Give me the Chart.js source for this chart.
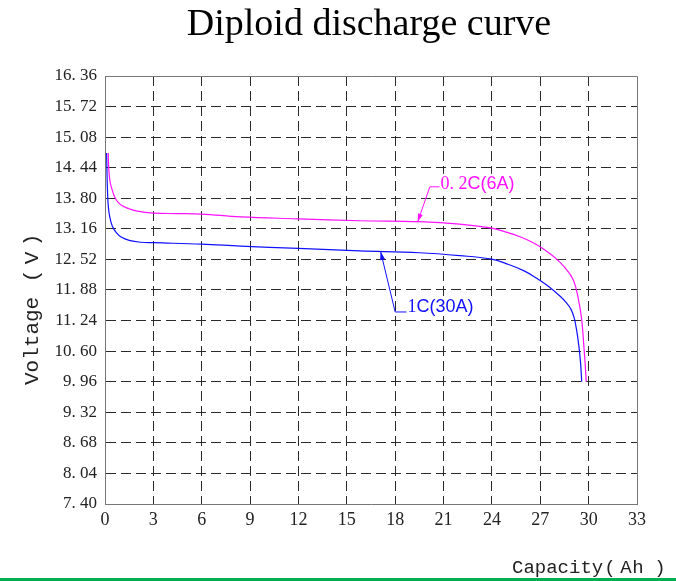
<!DOCTYPE html>
<html>
<head>
<meta charset="utf-8">
<title>Diploid discharge curve</title>
<script src="https://cdn.jsdelivr.net/npm/chart.js@4.4.1/dist/chart.umd.min.js"></script>
<style>
    html, body { margin: 0; padding: 0; background: #fff; }
    #wrap { width: 676px; height: 581px; position: relative; }
</style>
</head>
<body>
<div id="wrap"><canvas id="dischargeChart"></canvas></div>
<script>
const xTicks = [0, 3, 6, 9, 12, 15, 18, 21, 24, 27, 30, 33];
const yTicks = [7.40, 8.04, 8.68, 9.32, 9.96, 10.60, 11.24, 11.88, 12.52, 13.16, 13.80, 14.44, 15.08, 15.72, 16.36];

// 0.2C (6A)
const capacity02C = [0.2, 0.22, 0.26, 0.33, 0.45, 0.6, 0.8, 1.1, 1.5, 2, 3, 4.5, 6, 8.4, 12, 15.8, 19.5, 22, 23.9, 24.8, 25.7, 26.5, 27.2, 27.9, 28.5, 29.05, 29.37, 29.57, 29.7, 29.8, 29.85];
const voltage02C = [14.75, 14.5, 14.3, 14.12, 13.97, 13.83, 13.72, 13.64, 13.58, 13.53, 13.49, 13.48, 13.47, 13.41, 13.37, 13.33, 13.31, 13.26, 13.18, 13.1, 13.0, 12.88, 12.74, 12.56, 12.36, 12.09, 11.68, 11.26, 10.72, 10.25, 9.96];

// 1C (30A)
const capacity1C = [0.1, 0.12, 0.15, 0.2, 0.3, 0.45, 0.7, 1.0, 1.5, 2.2, 3, 6, 8.4, 12, 15.8, 19.5, 22, 23.9, 25, 26, 26.8, 27.5, 28.2, 28.6, 28.9, 29.1, 29.25, 29.4, 29.5, 29.57];
const voltage1C = [14.75, 14.4, 14.0, 13.65, 13.4, 13.22, 13.08, 12.99, 12.92, 12.88, 12.87, 12.84, 12.8, 12.75, 12.7, 12.66, 12.6, 12.53, 12.42, 12.28, 12.12, 11.96, 11.76, 11.62, 11.48, 11.3, 11.05, 10.69, 10.35, 9.96];

const pink = '#ff10ff';
const blue = '#1010ff';

function toPoints(xs, ys) {
    return xs.map((v, i) => ({ x: v, y: ys[i] }));
}

function edgeColor(ctx, count) {
    return (ctx.index === 0 || ctx.index === count - 1) ? 'rgba(0,0,0,0)' : '#2a2a2a';
}

function drawArrow(ctx, fx, fy, tx, ty, color) {
    const ang = Math.atan2(ty - fy, tx - fx);
    const len = 8, half = 2.5;
    ctx.fillStyle = color;
    ctx.beginPath();
    ctx.moveTo(tx, ty);
    ctx.lineTo(tx - len * Math.cos(ang) + half * Math.sin(ang), ty - len * Math.sin(ang) - half * Math.cos(ang));
    ctx.lineTo(tx - len * Math.cos(ang) - half * Math.sin(ang), ty - len * Math.sin(ang) + half * Math.cos(ang));
    ctx.closePath();
    ctx.fill();
}

function drawMixedLabel(ctx, x, y, serifPart, sansPart, color) {
    ctx.textAlign = 'left';
    ctx.textBaseline = 'alphabetic';
    ctx.font = '18px "Liberation Serif"';
    const w1 = ctx.measureText(serifPart).width;
    ctx.font = '18px "Liberation Sans"';
    const w2 = ctx.measureText(sansPart).width;
    // white knock-out so the grid does not run through the text
    ctx.fillStyle = '#fff';
    ctx.fillRect(x + 1, y - 15, w1 + w2 - 1, 19);
    ctx.fillStyle = color;
    ctx.font = '18px "Liberation Serif"';
    ctx.fillText(serifPart, x, y);
    ctx.font = '18px "Liberation Sans"';
    ctx.fillText(sansPart, x + w1, y);
}

// draws glyphs one by one along the baseline, offsets are glyph centres
function drawSpaced(ctx, parts) {
    ctx.textAlign = 'center';
    parts.forEach(p => ctx.fillText(p[0], p[1], 0));
}

const extras = {
    id: 'extras',
    afterDraw(chart) {
        const { ctx, chartArea: a, scales: { x, y } } = chart;
        ctx.save();

        // top and right frame
        ctx.strokeStyle = '#777';
        ctx.lineWidth = 1;
        ctx.setLineDash([]);
        ctx.beginPath();
        ctx.moveTo(a.left, Math.round(a.top) + 0.5);
        ctx.lineTo(Math.round(a.right) + 0.5, Math.round(a.top) + 0.5);
        ctx.lineTo(Math.round(a.right) + 0.5, a.bottom);
        ctx.stroke();

        // title
        ctx.fillStyle = '#000';
        ctx.font = '38px "Liberation Serif"';
        ctx.textAlign = 'center';
        ctx.textBaseline = 'alphabetic';
        ctx.fillText('Diploid discharge curve', 369, 35);

        // axis titles
        ctx.fillStyle = '#222';
        ctx.font = '19px "Liberation Mono"';
        ctx.save();
        ctx.translate(512, 573);
        ctx.textAlign = 'left';
        ctx.fillText('Capacity', 0, 0);
        drawSpaced(ctx, [['(', 98], ['A', 114], ['h', 126], [')', 148]]);
        ctx.restore();

        ctx.save();
        ctx.translate(38, 385);
        ctx.rotate(-Math.PI / 2);
        ctx.font = '21px "Liberation Mono"';
        ctx.textAlign = 'left';
        ctx.fillText('Voltage', 0, 0);
        drawSpaced(ctx, [['(', 109], ['V', 127], [')', 145]]);
        ctx.restore();

        // leader for 0.2C
        ctx.lineWidth = 1;
        ctx.strokeStyle = pink;
        let tip = [x.getPixelForValue(19.4), y.getPixelForValue(13.31)];
        let elbow = [x.getPixelForValue(20.15), y.getPixelForValue(14.04)];
        let end = [x.getPixelForValue(20.75), y.getPixelForValue(14.04)];
        drawMixedLabel(ctx, end[0] + 1, end[1] + 2, '0. 2', 'C(6A)', pink);
        ctx.beginPath();
        ctx.moveTo(end[0], end[1]);
        ctx.lineTo(elbow[0], elbow[1]);
        ctx.lineTo(tip[0], tip[1]);
        ctx.stroke();
        drawArrow(ctx, elbow[0], elbow[1], tip[0], tip[1], pink);

        // leader for 1C
        ctx.strokeStyle = blue;
        tip = [x.getPixelForValue(17.1), y.getPixelForValue(12.68)];
        elbow = [x.getPixelForValue(18.0), y.getPixelForValue(11.42)];
        end = [x.getPixelForValue(18.7), y.getPixelForValue(11.42)];
        drawMixedLabel(ctx, end[0] + 1, end[1], '1', 'C(30A)', blue);
        ctx.beginPath();
        ctx.moveTo(end[0], end[1]);
        ctx.lineTo(elbow[0], elbow[1]);
        ctx.lineTo(tip[0], tip[1]);
        ctx.stroke();
        drawArrow(ctx, elbow[0], elbow[1], tip[0], tip[1], blue);

        // green rule at the bottom
        ctx.fillStyle = '#00b050';
        ctx.fillRect(0, 578, chart.width, 3);

        ctx.restore();
    }
};

const chart = new Chart(document.getElementById('dischargeChart'), {
    type: 'line',
    data: {
        datasets: [{
            label: '0.2C(6A)',
            data: toPoints(capacity02C, voltage02C),
            borderColor: pink,
            borderWidth: 1.2,
            pointRadius: 0,
            fill: false,
            tension: 0.4
        }, {
            label: '1C(30A)',
            data: toPoints(capacity1C, voltage1C),
            borderColor: blue,
            borderWidth: 1.2,
            pointRadius: 0,
            fill: false,
            tension: 0.4
        }]
    },
    options: {
        responsive: true,
        maintainAspectRatio: false,
        animation: false,
        layout: {
            padding: { top: 76, right: 39, left: 0, bottom: 0 }
        },
        plugins: {
            legend: { display: false },
            title: { display: false },
            tooltip: { enabled: false }
        },
        scales: {
            x: {
                type: 'linear',
                min: 0,
                max: 33,
                afterBuildTicks: scale => { scale.ticks = xTicks.map(v => ({ value: v })); },
                afterFit: scale => { scale.height = 77; },
                grid: {
                    drawTicks: false,
                    lineWidth: 1,
                    color: ctx => edgeColor(ctx, xTicks.length)
                },
                border: { display: true, color: '#777', width: 1, dash: [10, 5] },
                ticks: {
                    padding: 5,
                    color: '#222',
                    font: { family: '"Liberation Serif"', size: 18 },
                    maxRotation: 0,
                    callback: v => String(v)
                }
            },
            y: {
                type: 'linear',
                min: 7.40,
                max: 16.36,
                afterBuildTicks: scale => { scale.ticks = yTicks.map(v => ({ value: v })); },
                afterFit: scale => { scale.width = 105; },
                grid: {
                    drawTicks: false,
                    lineWidth: 1,
                    color: ctx => edgeColor(ctx, yTicks.length)
                },
                border: { display: true, color: '#777', width: 1, dash: [10, 5] },
                ticks: {
                    padding: 8,
                    color: '#222',
                    font: { family: '"Liberation Serif"', size: 17 },
                    callback: v => Number(v).toFixed(2).replace('.', '. ')
                }
            }
        }
    },
    plugins: [extras]
});
</script>
</body>
</html>
